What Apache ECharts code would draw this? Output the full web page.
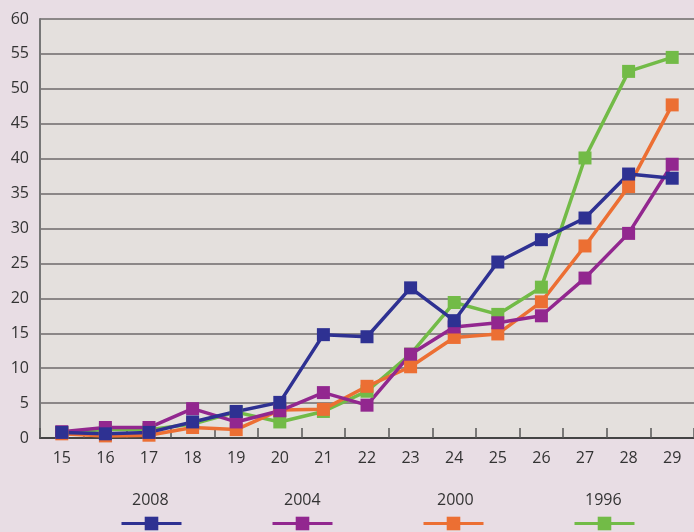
<!DOCTYPE html>
<html>
<head>
<meta charset="utf-8">
<script src="https://cdn.jsdelivr.net/npm/echarts@6/dist/echarts.min.js"></script>
<style>
html,body{margin:0;padding:0;background:#e8dde4;}
#main{width:694px;height:532px;}
</style>
</head>
<body>
<div id="main"></div>
<script>
var ages = ['15','16','17','18','19','20','21','22','23','24','25','26','27','28','29'];
var yearNames = ['2008','2004','2000','1996'];
var yearColors = ['#2e3192','#92278f','#ec6f33','#72bb47'];

var y2008 = [0.8, 0.6, 0.8, 2.3, 3.8, 5.1, 14.8, 14.5, 21.5, 16.8, 25.2, 28.4, 31.5, 37.8, 37.2];
var y2004 = [0.9, 1.5, 1.5, 4.2, 2.3, 3.9, 6.5, 4.7, 12.0, 15.9, 16.5, 17.5, 22.9, 29.3, 39.2];
var y2000 = [0.6, 0.3, 0.4, 1.5, 1.2, 4.0, 4.1, 7.4, 10.2, 14.4, 14.9, 19.5, 27.5, 36.0, 47.7];
var y1996 = [0.8, 1.2, 1.2, 2.0, 3.7, 2.3, 3.8, 6.7, 12.0, 19.4, 17.7, 21.6, 40.1, 52.5, 54.5];

var yTicks = [0, 5, 10, 15, 20, 25, 30, 35, 40, 45, 50, 55, 60];

var myChart = echarts.init(document.getElementById('main'));
var font = 'Open Sans';

function makeSeries(name, data, color) {
    return {
        name: name,
        type: 'line',
        data: data,
        symbol: 'rect',
        symbolSize: 13,
        lineStyle: { color: color, width: 3.5 },
        itemStyle: { color: color },
        emphasis: { disabled: true }
    };
}

// draw order: 1996 at the bottom, 2008 on top
var series = [
    makeSeries('1996', y1996, yearColors[3]),
    makeSeries('2000', y2000, yearColors[2]),
    makeSeries('2004', y2004, yearColors[1]),
    makeSeries('2008', y2008, yearColors[0])
];

var legendX = [150, 302, 455, 603];
var labels = yearNames.map(function (n, i) {
    return {
        type: 'text',
        left: legendX[i] - 18,
        top: 492,
        style: { text: n, fill: '#333', font: '16px "' + font + '"' }
    };
});

var option = {
    backgroundColor: '#e8dde4',
    animation: false,
    textStyle: { fontFamily: font },
    grid: {
        left: 40, right: -4, top: 19, bottom: 94,
        show: true, backgroundColor: '#e4e0dd', borderWidth: 0
    },
    legend: {
        data: yearNames,
        left: 120,
        top: 515,
        padding: 0,
        itemWidth: 60,
        itemHeight: 17,
        itemGap: 88,
        lineStyle: { width: 3 },
        formatter: function () { return ''; },
        selectedMode: false
    },
    graphic: labels,
    xAxis: {
        type: 'category',
        data: ages,
        boundaryGap: true,
        axisLine: { lineStyle: { color: '#444', width: 2 } },
        axisTick: { show: true, inside: true, length: 10, lineStyle: { color: '#555', width: 1.5 } },
        axisLabel: { color: '#333', fontSize: 16, margin: 12 }
    },
    yAxis: {
        type: 'value',
        min: yTicks[0],
        max: yTicks[yTicks.length - 1],
        interval: 5,
        axisLine: { show: true, lineStyle: { color: '#777', width: 2 } },
        axisTick: { show: false },
        axisLabel: { color: '#333', fontSize: 16, margin: 11 },
        splitLine: { lineStyle: { color: '#6e6a6a', width: 1.5 } }
    },
    series: series
};

option && myChart.setOption(option);
</script>
</body>
</html>
